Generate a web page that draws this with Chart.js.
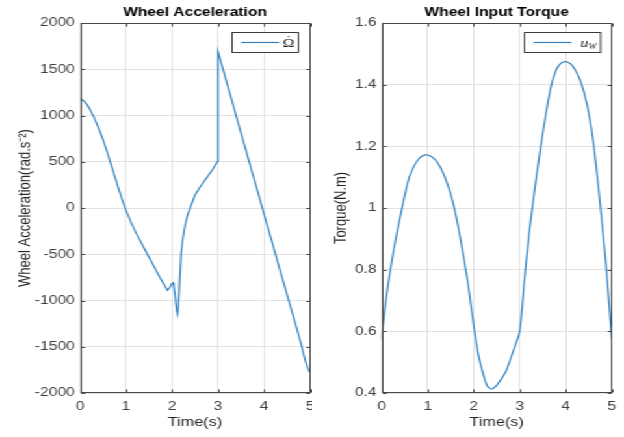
<!DOCTYPE html>
<html>
<head>
<meta charset="utf-8">
<script src="https://cdn.jsdelivr.net/npm/chart.js@4.4.0/dist/chart.umd.min.js"></script>
<style>
  html, body { margin: 0; padding: 0; background: #fff; overflow: hidden; }
  /* both panels are laid out narrow and stretched sideways as one figure */
  #figure { position: absolute; left: 0; top: 0; width: 480px; height: 437px; transform: scaleX(1.3); transform-origin: 0 0; }
  .panel { position: absolute; top: 0; width: 240px; height: 437px; }
  #left { left: 0; }
  #right { left: 240px; }
</style>
</head>
<body>
<div id="figure">
  <div class="panel" id="left"><canvas id="accelChart"></canvas></div>
  <div class="panel" id="right"><canvas id="torqueChart"></canvas></div>
</div>
<script>
/* data */

const accelTime = [0, 0.05, 0.1, 0.15, 0.2, 0.3, 0.4, 0.5, 0.6, 0.7, 0.8, 0.9, 1.0, 1.1, 1.2, 1.4, 1.6, 1.74, 1.9,
  1.96, 2.0, 2.02, 2.04, 2.07, 2.1, 2.12, 2.14, 2.17, 2.2, 2.23, 2.28, 2.33, 2.4, 2.5, 2.6, 2.7, 2.8, 2.9, 2.99,
  3.0, 3.2, 3.4, 3.6, 3.8, 4.0, 4.2, 4.4, 4.6, 4.8, 4.88, 4.94, 5.0];
const accelValues = [1180, 1170, 1150, 1120, 1080, 985, 870, 740, 590, 430, 270, 115, -25, -145, -250, -440, -625, -755, -890,
  -855, -815, -808, -840, -960, -1110, -1150, -1050, -750, -480, -346, -200, -90, 10, 140, 220, 290, 360, 430, 505,
  1690, 1340, 985, 635, 285, -65, -415, -765, -1110, -1460, -1620, -1720, -1780];

const torqueTime = [0, 0.1, 0.2, 0.3, 0.4, 0.5, 0.6, 0.7, 0.8, 0.9, 1.0, 1.1, 1.2, 1.3, 1.4, 1.5, 1.6, 1.7, 1.8, 1.9,
  2.0, 2.1, 2.2, 2.3, 2.4, 2.5, 2.6, 2.7, 2.8, 2.9, 3.0, 3.1, 3.2, 3.3, 3.4, 3.5, 3.6, 3.7, 3.8, 3.9,
  4.0, 4.1, 4.2, 4.3, 4.4, 4.5, 4.6, 4.7, 4.8, 4.9, 5.0];
const torqueValues = [0.575, 0.71, 0.81, 0.895, 0.97, 1.04, 1.10, 1.135, 1.158, 1.17, 1.172, 1.165, 1.15, 1.125, 1.09, 1.045, 0.985, 0.91, 0.825, 0.73,
  0.62, 0.525, 0.465, 0.422, 0.413, 0.425, 0.445, 0.47, 0.51, 0.553, 0.60, 0.76, 0.91, 1.03, 1.14, 1.24, 1.33, 1.405, 1.45, 1.47,
  1.475, 1.468, 1.45, 1.42, 1.375, 1.31, 1.215, 1.085, 0.94, 0.775, 0.575];

const timeTicks = [0, 1, 2, 3, 4, 5];
const accelTicks = [-2000, -1500, -1000, -500, 0, 500, 1000, 1500, 2000];
const torqueTicks = [0.4, 0.6, 0.8, 1, 1.2, 1.4, 1.6];

/* shared look */

Chart.defaults.font.family = '"Liberation Sans", Arial, sans-serif';
Chart.defaults.font.size = 12;
Chart.defaults.color = '#404040';

const LINE_BLUE = '#2b80c2';
const AXIS_GREY = '#474747';

// box round the plot area, inward tick marks on all four sides, and the legend box
const framePlugin = {
  id: 'frame',
  afterDatasetsDraw(chart) {
    const { ctx, chartArea: a, scales } = chart;
    const L = Math.round(a.left) + 0.5, R = Math.round(a.right) - 0.5;
    const T = Math.round(a.top) + 0.5, B = Math.round(a.bottom) - 0.5;
    ctx.save();
    ctx.strokeStyle = AXIS_GREY;
    ctx.lineWidth = 1;
    ctx.strokeRect(L, T, R - L, B - T);
    ctx.beginPath();
    scales.x.ticks.forEach(t => {
      const px = Math.round(scales.x.getPixelForValue(t.value)) + 0.5;
      ctx.moveTo(px, B); ctx.lineTo(px, B - 3);
      ctx.moveTo(px, T); ctx.lineTo(px, T + 3);
    });
    scales.y.ticks.forEach(t => {
      const py = Math.round(scales.y.getPixelForValue(t.value)) + 0.5;
      ctx.moveTo(L, py); ctx.lineTo(L + 3, py);
      ctx.moveTo(R, py); ctx.lineTo(R - 3, py);
    });
    ctx.stroke();
    ctx.restore();
  },
  afterDraw(chart, args, opts) {
    const { ctx, chartArea: a } = chart;
    const w = opts.boxWidth, h = 20;
    const x = Math.round(a.right - 9.5 - w) + 0.5;
    const y = Math.round(a.top + 8.7) + 0.5;
    ctx.save();
    ctx.fillStyle = '#fff';
    ctx.fillRect(x, y, w, h);
    ctx.strokeStyle = '#3a3a3a';
    ctx.lineWidth = 1;
    ctx.strokeRect(x, y, w, h);
    const cy = y + h / 2;
    ctx.strokeStyle = LINE_BLUE;
    ctx.lineWidth = 1.2;
    ctx.beginPath();
    ctx.moveTo(x + 7, cy);
    ctx.lineTo(x + 36, cy);
    ctx.stroke();
    // legend text, drawn piece by piece so subscripts and accents can sit apart
    let tx = x + opts.textOffset;
    ctx.fillStyle = '#1a1a1a';
    ctx.textBaseline = 'alphabetic';
    opts.label.forEach(part => {
      ctx.font = part.font;
      const pw = ctx.measureText(part.text).width;
      ctx.fillText(part.text, tx, cy + 4 + (part.dy || 0));
      if (part.accent) {
        ctx.textAlign = 'center';
        ctx.fillText(part.accent, tx + pw / 2, cy + 1);
        ctx.textAlign = 'left';
      }
      tx += pw;
    });
    ctx.restore();
  }
};

function makeChart(canvasId, cfg) {
  const points = cfg.time.map((t, i) => ({ x: t, y: cfg.values[i] }));
  return new Chart(document.getElementById(canvasId), {
    type: 'line',
    data: {
      datasets: [{
        data: points,
        borderColor: LINE_BLUE,
        borderWidth: 1.2,
        pointRadius: 0,
        tension: cfg.tension,
        fill: false
      }]
    },
    plugins: [framePlugin],
    options: {
      responsive: true,
      maintainAspectRatio: false,
      animation: false,
      events: [],
      layout: { padding: { left: 0, right: cfg.padRight, top: 0, bottom: 0 } },
      plugins: {
        legend: { display: false },
        tooltip: { enabled: false },
        title: {
          display: true,
          text: cfg.title,
          fullSize: false,
          color: '#000',
          font: { size: 12, weight: 'bold' },
          padding: { top: 5, bottom: 3.6 }
        },
        frame: { boxWidth: cfg.legendWidth, textOffset: cfg.legendTextOffset, label: cfg.legendLabel }
      },
      scales: {
        x: {
          type: 'linear',
          min: 0,
          max: 5,
          afterBuildTicks: s => { s.ticks = timeTicks.map(v => ({ value: v })); },
          afterFit: s => { s.height = 44; s.paddingLeft = 0; s.paddingRight = 0; },
          grid: { color: '#e2e2e2', drawTicks: false },
          border: { display: false },
          ticks: { padding: 6, color: '#404040' },
          title: {
            display: true,
            text: 'Time(s)',
            color: '#262626',
            font: { size: 12.5 },
            padding: { top: 0, bottom: 7 }
          }
        },
        y: {
          type: 'linear',
          min: cfg.yTicks[0],
          max: cfg.yTicks[cfg.yTicks.length - 1],
          afterBuildTicks: s => { s.ticks = cfg.yTicks.map(v => ({ value: v })); },
          afterFit: s => { s.width = cfg.yWidth; },
          grid: { color: '#e2e2e2', drawTicks: false },
          border: { display: false },
          ticks: {
            padding: 4,
            color: '#404040',
            callback: v => String(Math.round(v * 10) / 10)
          },
          title: {
            display: true,
            text: cfg.yTitle,
            color: '#262626',
            font: { size: 13 },
            padding: { top: cfg.yTitlePad, bottom: 0 }
          }
        }
      }
    }
  });
}

makeChart('accelChart', {
  time: accelTime,
  values: accelValues,
  yTicks: accelTicks,
  tension: 0,
  title: 'Wheel Acceleration',
  yTitle: 'Wheel Acceleration(rad.s\u207B\u00B2)',
  yWidth: 61.5,
  yTitlePad: 11.5,
  padRight: 1.5,
  legendWidth: 51,
  legendTextOffset: 39,
  legendLabel: [{ text: '\u03A9', accent: '\u02D9', font: '12px "Liberation Serif", serif' }]
});

makeChart('torqueChart', {
  time: torqueTime,
  values: torqueValues,
  yTicks: torqueTicks,
  tension: 0.3,
  title: 'Wheel Input Torque',
  yTitle: 'Torque(N.m)',
  yWidth: 53.6,
  yTitlePad: 14.5,
  padRight: 9.5,
  legendWidth: 58.5,
  legendTextOffset: 43,
  legendLabel: [
    { text: 'u', font: 'italic 12px "Liberation Serif", serif' },
    { text: 'W', font: 'italic 8px "Liberation Serif", serif', dy: 2.5 }
  ]
});
</script>
</body>
</html>
